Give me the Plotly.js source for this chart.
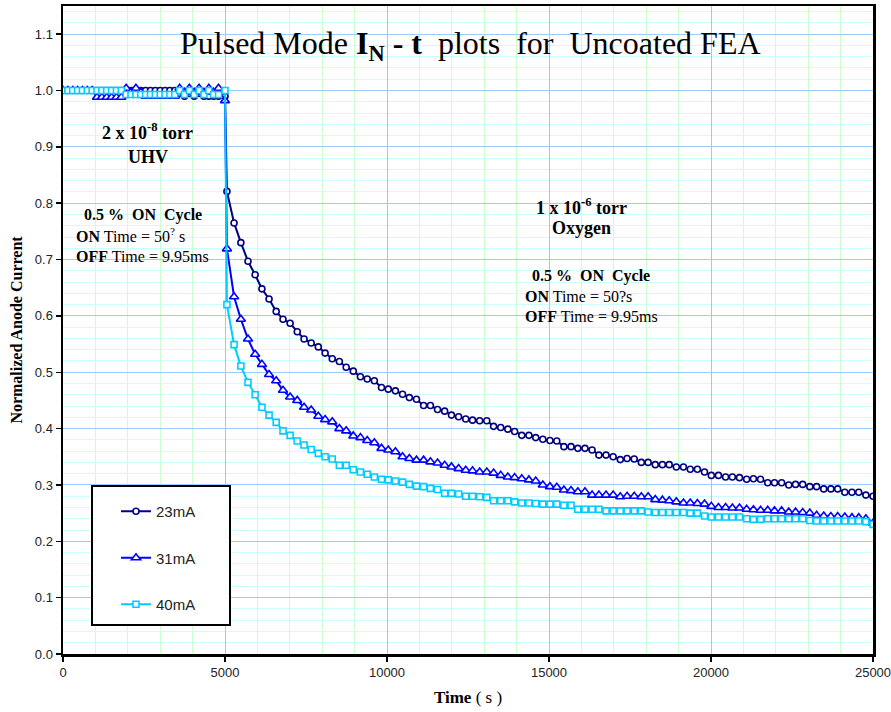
<!DOCTYPE html>
<html>
<head>
<meta charset="utf-8">
<script src="https://cdn.plot.ly/plotly-3.0.1.min.js"></script>
<style>html,body{margin:0;padding:0;background:#fff;}#chart{width:891px;height:712px;}</style>
</head>
<body>
<div id="chart"></div>
<script>
// Time (s)
const timeS = [0,150,300,450,600,750,900,1050,1200,1350,1500,1650,1800,1950,2100,2250,2400,2550,2700,2850,3000,3150,3300,3450,3600,3750,3900,4050,4200,4350,4500,4650,4800,5000,
5060,5280,5490,5710,5930,6140,6360,6580,6790,7010,7230,7440,7660,7880,8090,8310,8530,8740,8960,9180,9390,9610,9830,10040,10260,10480,10690,10910,11130,11340,11560,11780,11990,12210,12430,12640,12860,13080,13290,13510,13730,13940,14160,14380,14590,14810,15030,15240,15460,15680,15890,16110,16330,16540,16760,16980,17200,17410,17630,17850,18060,18280,18500,18710,18930,19150,19360,19580,19800,20010,20230,20450,20660,20880,21100,21310,21530,21750,21960,22180,22400,22610,22830,23050,23260,23480,23700,23910,24130,24350,24560,24780,25000];

// Normalized anode current, 23 mA
const i23mA = [1,1,1,1,1,1,1,1,1,1,1,1,1,1,1,1,1,1,1,1,1,1,1,1,0.995,0.99,0.995,0.99,0.995,0.99,0.99,0.99,0.99,0.99,
0.821,0.765,0.730,0.697,0.673,0.648,0.630,0.608,0.594,0.587,0.572,0.559,0.552,0.545,0.534,0.524,0.519,0.509,0.502,0.492,0.488,0.485,0.473,0.470,0.467,0.461,0.455,0.452,0.441,0.441,0.434,0.431,0.424,0.421,0.417,0.415,0.414,0.414,0.404,0.402,0.399,0.395,0.388,0.388,0.384,0.381,0.379,0.378,0.368,0.368,0.365,0.365,0.362,0.353,0.353,0.350,0.345,
0.347,0.346,0.340,0.340,0.336,0.336,0.336,0.332,0.332,0.328,0.328,0.323,0.317,0.317,0.314,0.314,0.313,0.310,0.311,0.310,0.304,0.304,0.304,0.300,0.301,0.301,0.297,0.297,0.293,0.293,0.293,0.287,0.287,0.287,0.282,0.280];

// Normalized anode current, 31 mA
const i31mA = [1,1,1,1,1,1,1,0.988,0.988,0.988,0.988,0.988,0.988,1.004,0.997,1.004,0.997,0.99,0.99,0.99,0.99,0.99,0.99,0.99,1.004,0.997,1.004,0.997,1.004,0.997,1.004,0.997,1.004,0.982,
0.719,0.634,0.594,0.559,0.532,0.514,0.496,0.485,0.468,0.456,0.450,0.438,0.433,0.422,0.416,0.412,0.400,0.396,
0.387,0.384,0.379,0.375,0.365,0.362,0.359,0.350,0.347,0.344,0.344,0.341,0.339,0.335,0.332,0.329,0.326,0.325,0.323,0.323,0.321,0.317,0.314,0.313,0.311,0.309,0.307,0.300,0.297,0.296,0.291,0.290,0.288,0.288,0.282,0.282,0.282,0.282,0.279,
0.280,0.280,0.279,0.279,0.274,0.273,0.272,0.270,0.268,0.268,0.267,0.266,0.262,0.260,0.260,0.259,0.259,0.257,0.256,0.255,0.255,0.254,0.254,0.252,0.252,0.251,0.250,0.246,0.245,0.244,0.244,0.243,0.242,0.242,0.240,0.232];

// Normalized anode current, 40 mA
const i40mA = [1,1,1,1,1,1,1,1,1,1,1,1,1,0.993,0.993,0.993,0.993,0.993,0.993,0.993,0.993,0.993,0.993,0.993,1,0.993,1,0.993,1,0.993,1,0.993,0.993,1,
0.620,0.549,0.511,0.482,0.460,0.438,0.424,0.411,0.396,0.388,0.378,0.371,0.363,0.356,0.350,0.346,0.335,0.335,
0.327,0.323,0.319,0.314,0.310,0.309,0.307,0.305,0.301,0.298,0.297,0.294,0.292,0.285,0.285,0.284,0.280,0.280,0.279,0.278,0.272,0.272,0.272,0.270,0.268,0.268,0.267,0.266,0.266,0.266,0.264,0.264,0.257,0.257,0.257,0.257,0.254,0.254,0.254,
0.254,0.254,0.254,0.252,0.251,0.251,0.251,0.251,0.251,0.250,0.250,0.245,0.243,0.243,0.243,0.243,0.243,0.240,0.239,0.239,0.240,0.240,0.240,0.240,0.240,0.240,0.237,0.236,0.236,0.236,0.236,0.236,0.236,0.236,0.235,0.230];

const seriesNames = ['23mA','31mA','40mA'];
const seriesColors = ['#000080','#0000ff','#00ccff'];
const seriesSymbols = ['circle','triangle-up','square'];
const seriesSizes = [6,8,6];
const seriesValues = [i23mA,i31mA,i40mA];

const traces = seriesValues.map((v,k)=>({
  type:'scatter', mode:'lines+markers', x:timeS, y:v, name:seriesNames[k],
  legendgroup:'g'+k,
  line:{color:seriesColors[k], width:2},
  marker:{symbol:seriesSymbols[k], size:seriesSizes[k], color:'#ffffff', line:{color:seriesColors[k], width:1.6}}
}));

const px = x => (x-63)/810;
const py = y => (654-y)/648;
const serif = 'Liberation Serif, Times New Roman, serif';

const ann = (x,y,text,size,xanchor) => ({xref:'paper',yref:'paper',x:px(x),y:py(y),text:text,showarrow:false,
  xanchor:xanchor||'center',yanchor:'middle',font:{family:serif,size:size,color:'#000'}});

const layout = {
  width:891, height:712,
  margin:{l:63,r:18,t:6,b:58},
  paper_bgcolor:'#ffffff', plot_bgcolor:'#ffffff',
  showlegend:true,
  legend:{x:px(116),y:py(495),xanchor:'left',yanchor:'top',bgcolor:'rgba(0,0,0,0)',borderwidth:0,
    font:{family:'Liberation Sans, Arial, sans-serif',size:15,color:'#222'},tracegroupgap:24},
  xaxis:{range:[0,25000],dtick:5000,tick0:0,tickformat:'d',showgrid:true,gridcolor:'#c0c0c0',gridwidth:1,
    minor:{dtick:1000,showgrid:true,gridcolor:'#ccffcc',gridwidth:1},
    zeroline:false,showline:true,linecolor:'#000',linewidth:2.5,mirror:true,
    ticks:'outside',ticklen:5,tickwidth:1.5,tickcolor:'#000',ticklabeloverflow:'allow',
    tickfont:{family:'Liberation Sans, Arial, sans-serif',size:13,color:'#222'},
    title:{text:'<b>Time</b> ( s )',font:{family:serif,size:17,color:'#000'},standoff:12}},
  yaxis:{range:[0,1.15],dtick:0.1,tick0:0,tickformat:'.1f',showgrid:true,gridcolor:'#99ccff',gridwidth:1,
    minor:{dtick:0.02,showgrid:true,gridcolor:'#ccffff',gridwidth:1},
    zeroline:false,showline:true,linecolor:'#000',linewidth:2.5,mirror:true,
    ticks:'outside',ticklen:5,tickwidth:1.5,tickcolor:'#000',
    tickfont:{family:'Liberation Sans, Arial, sans-serif',size:13,color:'#222'},
    title:{text:'<b>Normalized Anode Current</b>',font:{family:serif,size:16,color:'#000'},standoff:8}},
  shapes:[{type:'rect',xref:'paper',yref:'paper',x0:px(92),x1:px(230),y0:py(625),y1:py(486),
    fillcolor:'#ffffff',line:{color:'#000',width:2},layer:'above'}],
  annotations:[
    ann(471,45,'Pulsed Mode <b>I<sub>N</sub> - t</b>  plots  for  Uncoated FEA',32),
    ann(147,131,'<b>2 x 10<sup>-8</sup> torr</b>',18),
    ann(148,157,'<b>UHV</b>',18),
    ann(82,215,'<b>0.5 %  ON  Cycle</b>',16,'left'),
    ann(74,235,'<b>ON</b> Time = 50<sup>?</sup> s',16,'left'),
    ann(74,256,'<b>OFF</b> Time = 9.95ms',16,'left'),
    ann(581,206,'<b>1 x 10<sup>-6</sup> torr</b>',18),
    ann(581,228,'<b>Oxygen</b>',18),
    ann(530,276,'<b>0.5 %  ON  Cycle</b>',16,'left'),
    ann(523,296,'<b>ON</b> Time = 50?s',16,'left'),
    ann(523,316,'<b>OFF</b> Time = 9.95ms',16,'left')
  ]
};

Plotly.newPlot('chart', traces, layout, {displayModeBar:false, staticPlot:true});
</script>
</body>
</html>
